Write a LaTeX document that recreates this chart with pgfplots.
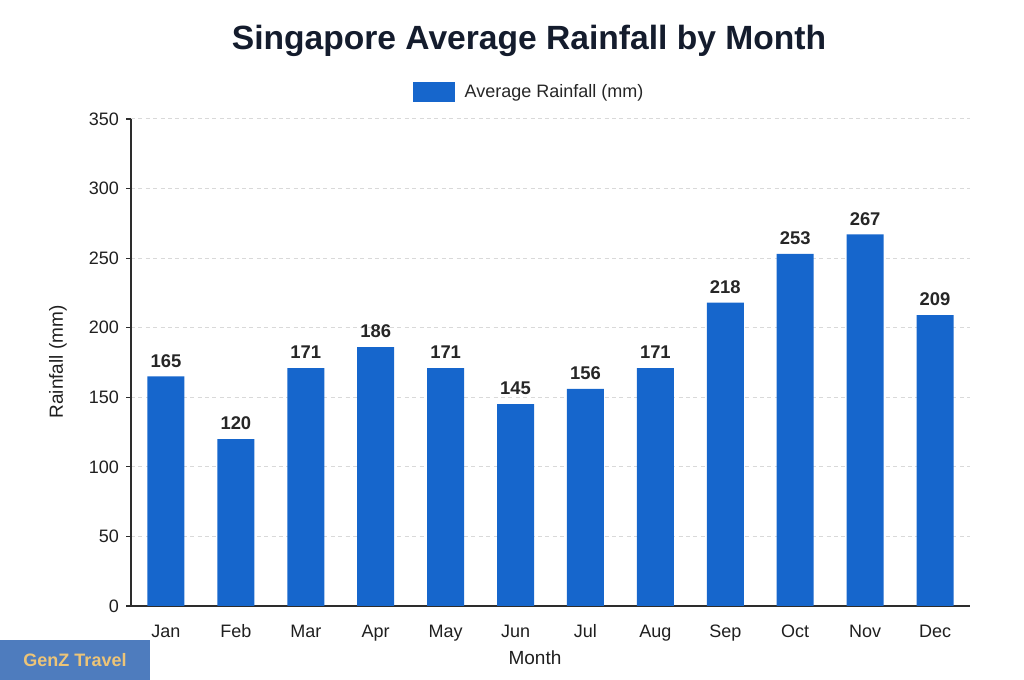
\documentclass[border=0pt]{standalone}
\usepackage{fontspec}
\setmainfont{Liberation Sans}
\usepackage{pgfplots}
\pgfplotsset{compat=1.18}

\definecolor{barblue}{RGB}{22,102,204}
\definecolor{titleink}{RGB}{20,28,45}
\definecolor{axisink}{RGB}{45,45,45}
\definecolor{wmblue}{RGB}{78,124,190}
\definecolor{wmgold}{RGB}{236,196,120}

\begin{document}
\begin{tikzpicture}
\useasboundingbox (0pt,0pt) rectangle (512pt,340pt);

% title
\node[font=\bfseries\fontsize{16.8}{20}\selectfont, text=titleink] at (264.5pt,319.8pt)
  {Singapore Average Rainfall by Month};

\begin{axis}[
  at={(65.5pt,37pt)}, anchor=south west,
  scale only axis, width=419.5pt, height=243.5pt,
  xmin=-0.5, xmax=11.5, ymin=0, ymax=350,
  axis lines=left,
  x axis line style={-, draw=axisink, line width=0.75pt},
  y axis line style={-, draw=axisink, line width=0.75pt},
  xtick={0,...,11},
  xticklabels={Jan,Feb,Mar,Apr,May,Jun,Jul,Aug,Sep,Oct,Nov,Dec},
  ytick={0,50,...,350},
  major x tick style={draw=none},
  major y tick style={draw=axisink, line width=0.6pt},
  tick align=outside, major tick length=2.5pt,
  ymajorgrids,
  grid style={draw=black!15, line width=0.5pt, dash pattern=on 2pt off 1.7pt},
  /pgf/number format/assume math mode=true,
  ticklabel style={font=\fontsize{9}{11}\selectfont, text=black!88},
  xticklabel style={text height=6.6pt, text depth=0pt, yshift=-3pt},
  ylabel={Rainfall (mm)},
  ylabel style={at={(axis description cs:-0.087,0.501)}, anchor=center,
    font=\fontsize{9.5}{11}\selectfont, text=black!88},
  xlabel={Month},
  xlabel style={at={(axis description cs:0.4815,-0.107)}, anchor=center,
    font=\fontsize{9.5}{11}\selectfont, text=black!88},
  legend style={draw=none, fill=none, at={(0.4756,1.055)}, anchor=center,
    font=\fontsize{9}{10}\selectfont, text=black!85},
  legend image code/.code={\fill[barblue] (0pt,-5pt) rectangle (21pt,5pt);},
  nodes near coords,
  every node near coord/.append style={font=\bfseries\fontsize{9.2}{11}\selectfont,
    text=black!85, yshift=1pt},
  clip=false,
]
\addplot[ybar, bar width=18.5pt, fill=barblue, draw=none] coordinates {
  (0,165) (1,120) (2,171) (3,186) (4,171) (5,145)
  (6,156) (7,171) (8,218) (9,253) (10,267) (11,209)
};
\addlegendentry{\hspace{3pt}Average Rainfall (mm)}
\end{axis}

% badge in the lower left corner
\fill[wmblue] (0pt,0pt) rectangle (75pt,20pt);
\node[font=\bfseries\fontsize{9}{11}\selectfont, text=wmgold] at (37.5pt,10pt) {GenZ Travel};
\end{tikzpicture}
\end{document}
